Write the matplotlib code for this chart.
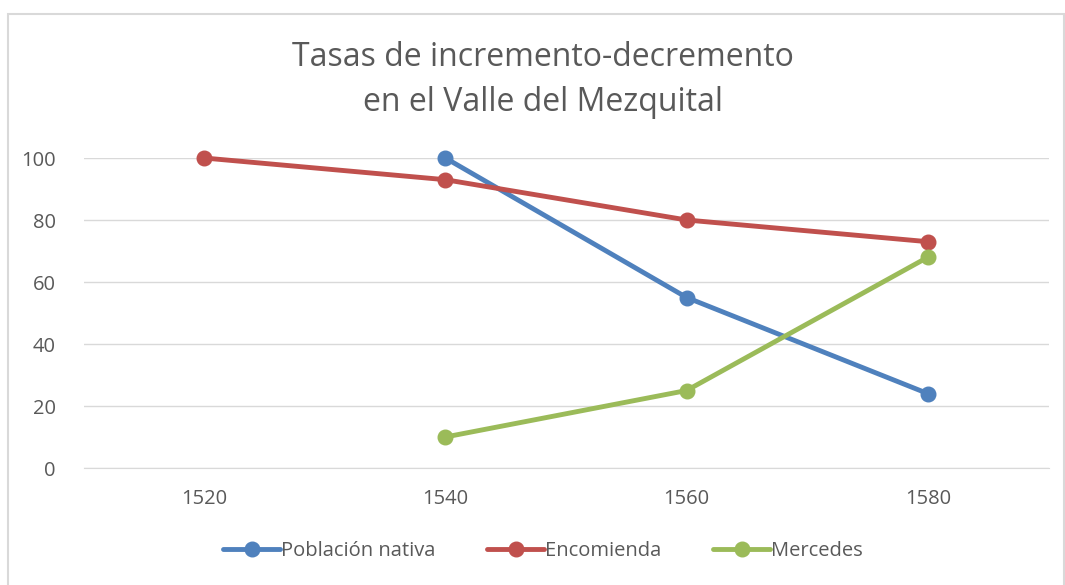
import matplotlib.pyplot as plt
import numpy as np

years = ['1520', '1540', '1560', '1580']
poblacion = [np.nan, 100, 55, 24]
encomienda = [100, 93, 80, 73]
mercedes = [np.nan, 10, 25, 68]

series = [('Población nativa', poblacion, '#4F81BD'),
          ('Encomienda', encomienda, '#C0504D'),
          ('Mercedes', mercedes, '#9BBB59')]

plt.rcParams['font.family'] = ['Open Sans', 'DejaVu Sans']

W, H = 1065, 585
fig = plt.figure(figsize=(W / 100, H / 100), dpi=100)
ax = fig.add_axes([83.5 / W, 1 - 468 / H, 965 / W, 310 / H])

x = np.arange(len(years))
for name, vals, col in series:
	ax.plot(x, vals, color=col, lw=3.5, marker='o', ms=10.5, label=name,
		solid_capstyle='round', zorder=3, clip_on=False)

ax.set_xlim(-0.5, len(years) - 0.5)
ax.set_ylim(0, 100)
ax.set_xticks(x)
ax.set_xticklabels(years)
ax.set_yticks(np.arange(0, 101, 20))
ax.yaxis.grid(True, color='#d9d9d9', lw=1)
ax.set_axisbelow(True)
for s in ['top', 'right', 'left']:
	ax.spines[s].set_visible(False)
ax.spines['bottom'].set_color('#d9d9d9')
ax.tick_params(axis='both', length=0, labelsize=14.5, colors='#595959')
ax.tick_params(axis='x', pad=15)
ax.tick_params(axis='y', pad=20)

fig.text(543 / W, 1 - 80 / H, 'Tasas de incremento-decremento\nen el Valle del Mezquital',
	ha='center', va='center', fontsize=23, color='#595959', linespacing=1.45)

leg = fig.legend(loc='center', bbox_to_anchor=(543 / W, 1 - 551 / H), ncol=3,
	frameon=False, fontsize=14.5, handlelength=2.8, handletextpad=0.05,
	columnspacing=2.6)
for t in leg.get_texts():
	t.set_color('#595959')

# chart frame
fig.add_artist(plt.Rectangle((7.5 / W, -0.01), (1064 - 7.5) / W, 1 - 13.5 / H + 0.01,
	transform=fig.transFigure, fill=False, ec='#d9d9d9', lw=1.5))

fig.savefig('out.png', dpi=100)
